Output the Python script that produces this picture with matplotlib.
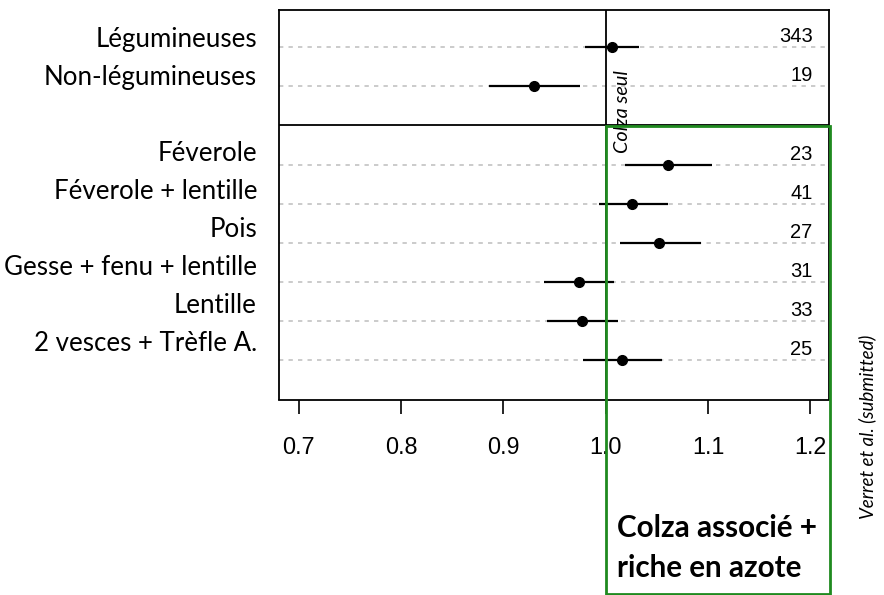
import matplotlib
matplotlib.use("Agg")
import matplotlib.pyplot as plt
from matplotlib.patches import Rectangle
from matplotlib.transforms import blended_transform_factory

# ---- data ----
categories = ["Légumineuses", "Non-légumineuses",
              "Féverole", "Féverole + lentille", "Pois",
              "Gesse + fenu + lentille", "Lentille", "2 vesces + Trèfle A."]
positions = [0, 1, 3, 4, 5, 6, 7, 8]
estimates = [1.006, 0.930, 1.061, 1.026, 1.052, 0.974, 0.977, 1.016]
ci_low = [0.980, 0.886, 1.019, 0.993, 1.014, 0.940, 0.943, 0.978]
ci_high = [1.033, 0.975, 1.104, 1.061, 1.093, 1.008, 1.012, 1.055]
counts = ["343", "19", "23", "41", "27", "31", "33", "25"]
xticks = [0.7, 0.8, 0.9, 1.0, 1.1, 1.2]
xticklabels = ["0.7", "0.8", "0.9", "1.0", "1.1", "1.2"]

W, H = 884, 595
fig = plt.figure(figsize=(W / 100, H / 100), dpi=100)

def fx(px):
    return px / W

def fy(py):
    return 1 - py / H

ax_l, ax_r, ax_t, ax_b = 279, 829, 10, 399.5
ax = fig.add_axes([fx(ax_l), fy(ax_b), (ax_r - ax_l) / W, (ax_b - ax_t) / H])
ax.set_xlim(0.6806, 1.2183)
ax.set_ylim(9.01, -0.954)
btr = blended_transform_factory(ax.transAxes, ax.transData)

grey = "#c2c2c2"
for p in positions:
    ax.axhline(p, color=grey, lw=1.2, ls=(0, (2.6, 3.1)), zorder=1)

ax.axhline(2.0, color="black", lw=1.3, zorder=2)
ax.axvline(1.0, color="black", lw=1.3, zorder=2)

for p, e, lo, hi, n in zip(positions, estimates, ci_low, ci_high, counts):
    ax.plot([lo, hi], [p, p], color="black", lw=1.6, solid_capstyle="butt", zorder=3)
    ax.plot([e], [p], "o", color="black", ms=7, zorder=4)
    ax.text(0.970, p - 0.27, n, transform=btr,
            ha="right", va="center", fontsize=14.5, family="Liberation Sans")

for p, c in zip(positions, categories):
    ax.text(-0.04, p * 0.972, c, transform=btr,
            ha="right", va="baseline", fontsize=18.6, family="Lato")

ax.set_xticks(xticks)
ax.set_xticklabels(xticklabels, family="Liberation Sans", fontsize=16.8)
ax.set_yticks([])
ax.tick_params(axis="x", direction="out", length=10, width=1.2, pad=16)
for s in ax.spines.values():
    s.set_linewidth(1.3)

# green box
green = "#1f8a1f"
rect = Rectangle((fx(605.5), fy(594)), (829.5 - 605.5) / W, (594 - 125.7) / H,
                 transform=fig.transFigure, fill=False, edgecolor=green, lw=2, zorder=10)
fig.add_artist(rect)

fig.text(fx(622), fy(112), "Colza seul", rotation=90, ha="center", va="center",
         fontsize=14.3, style="italic", family="Lato")
fig.text(fx(617), fy(536.7), "Colza associé +", ha="left", va="baseline",
         fontsize=21.3, weight="bold", family="Lato")
fig.text(fx(617), fy(576.7), "riche en azote", ha="left", va="baseline",
         fontsize=21.3, weight="bold", family="Lato")
fig.text(fx(867), fy(427), "Verret et al. (submitted)", rotation=90, ha="center", va="center",
         fontsize=13.5, style="italic", family="Lato")

fig.savefig("out.png", dpi=100)
